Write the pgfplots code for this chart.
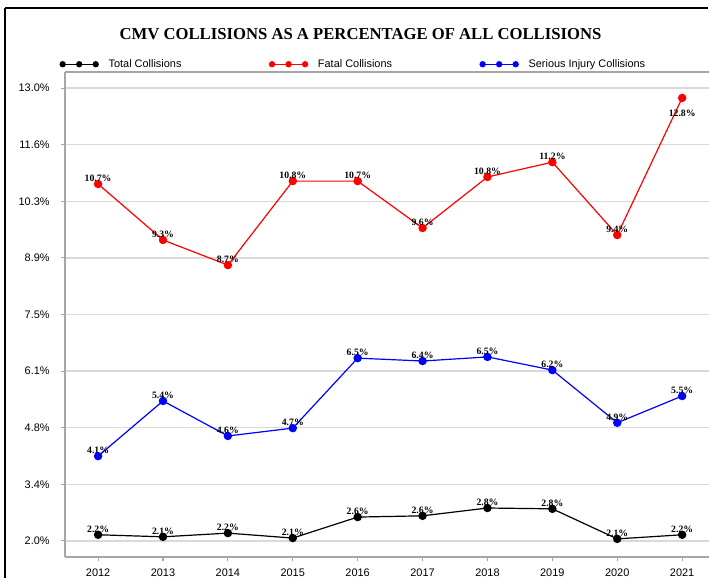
\documentclass[border=0pt]{standalone}
\usepackage{pgfplots}
\pgfplotsset{compat=1.18}
\usepackage{pgfplotstable}
\usepackage{fontspec}
\setmainfont{Liberation Sans}
\newfontfamily\tnr{Liberation Serif}
\definecolor{gridgray}{RGB}{217,217,217}
\definecolor{axgray}{RGB}{165,165,165}

% year, value, printed label
\pgfplotstableread{
year val lab
2012 2.15 2.2
2013 2.10 2.1
2014 2.19 2.2
2015 2.07 2.1
2016 2.58 2.6
2017 2.61 2.6
2018 2.80 2.8
2019 2.78 2.8
2020 2.05 2.1
2021 2.15 2.2
}\totaltab
\pgfplotstableread{
year val lab
2012 10.67 10.7
2013 9.31 9.3
2014 8.70 8.7
2015 10.74 10.8
2016 10.74 10.7
2017 9.60 9.6
2018 10.84 10.8
2019 11.20 11.2
2020 9.43 9.4
2021 12.76 12.8
}\fataltab
\pgfplotstableread{
year val lab
2012 4.06 4.1
2013 5.40 5.4
2014 4.55 4.6
2015 4.74 4.7
2016 6.44 6.5
2017 6.37 6.4
2018 6.47 6.5
2019 6.15 6.2
2020 4.87 4.9
2021 5.52 5.5
}\serioustab

\begin{document}
\begin{tikzpicture}[x=0.75pt,y=0.75pt]
\useasboundingbox (0,0) rectangle (709,578);
\fill[white] (0,0) rectangle (709,578);
\draw[black, line width=1.5pt] (5,0) -- (5,570);
\draw[black, line width=1.5pt] (5,570) -- (708,570);
\node[font=\tnr\bfseries\fontsize{12.5}{15}\selectfont] at (360.5,544)
  {CMV COLLISIONS AS A PERCENTAGE OF ALL COLLISIONS};

\begin{axis}[
  at={(48.75pt,15.75pt)}, anchor=south west,
  scale only axis, width=483pt, height=363.75pt,
  xmin=2011.49, xmax=2021.414, ymin=1.61, ymax=13.39,
  axis x line*=bottom, axis y line*=left,
  xtick={2012,...,2021},
  ytick={2,3.375,4.75,6.125,7.5,8.875,10.25,11.625,13},
  yticklabels={2.0\%,3.4\%,4.8\%,6.1\%,7.5\%,8.9\%,10.3\%,11.6\%,13.0\%},
  ymajorgrids, grid style={gridgray, line width=1.1pt},
  axis line style={axgray, line width=1pt},
  tick style={axgray, line width=0.8pt},
  major tick length=3pt, tick align=outside,
  tick label style={font=\fontsize{8.2}{10}\selectfont},
  yticklabel style={xshift=-5pt},
  xticklabel style={/pgf/number format/1000 sep={}, yshift=-2.2pt},
  /pgf/number format/assume math mode=true,
  clip=false,
  legend columns=3,
  legend style={at={(-0.008,1.016)}, anchor=west, draw=none, fill=none,
    inner sep=0pt, font=\fontsize{8.2}{10}\selectfont,
    /tikz/every even column/.append style={column sep=64pt}},
  legend image code/.code={\draw[mark size=1.9pt] plot coordinates {(0pt,0pt) (12.4pt,0pt) (24.8pt,0pt)};
    \path (32pt,0pt);},
  every axis plot/.append style={line width=0.9pt, mark=*, mark size=2.7pt},
  point meta=explicit,
  visualization depends on={y \as \yv},
  nodes near coords={\pgfmathprintnumber[fixed,fixed zerofill,precision=1]{\pgfplotspointmeta}\%},
  every node near coord/.append style={anchor=south, inner sep=1.5pt,
    yshift={-16*(\yv>12)}, text=black, font=\tnr\bfseries\fontsize{7.3}{8}\selectfont},
]
\draw[axgray, line width=1pt] (rel axis cs:0,1) -- (rel axis cs:1,1);
\addplot[black] table[x=year, y=val, meta=lab] {\totaltab};
\addlegendentry{Total Collisions}
\addplot[red] table[x=year, y=val, meta=lab] {\fataltab};
\addlegendentry{Fatal Collisions}
\addplot[blue] table[x=year, y=val, meta=lab] {\serioustab};
\addlegendentry{Serious Injury Collisions}
\end{axis}
\end{tikzpicture}
\end{document}
